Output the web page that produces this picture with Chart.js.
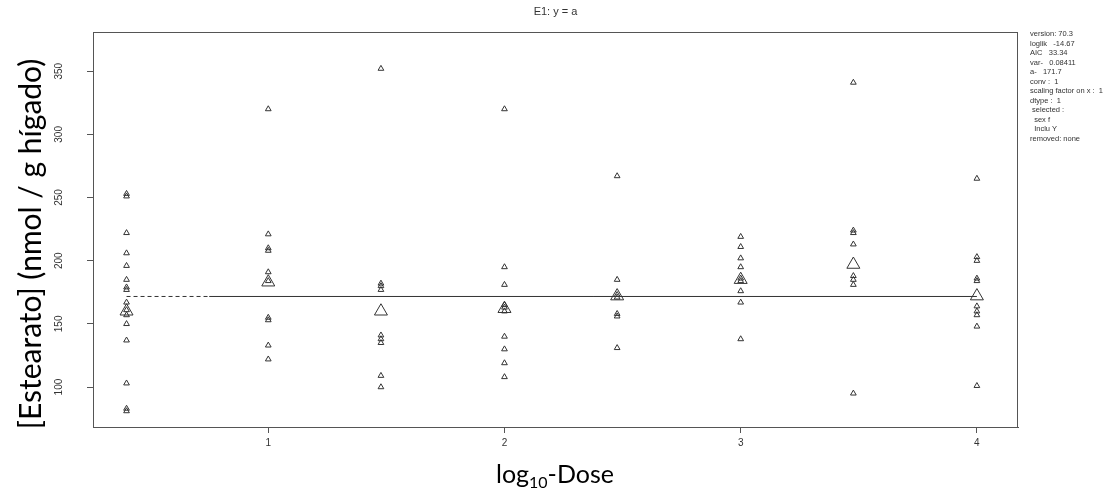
<!DOCTYPE html>
<html>
<head>
<meta charset="utf-8">
<script src="https://cdn.jsdelivr.net/npm/chart.js@4/dist/chart.umd.min.js"></script>
<style>
  html, body { margin: 0; padding: 0; background: #fff; }
  #wrap { width: 1112px; height: 493px; }
</style>
</head>
<body>
<div id="wrap"><canvas id="e1_plot"></canvas></div>
<script>
// log10 dose positions (control drawn at 0.4)
const doses = [0.4, 1, 1.477, 2, 2.477, 3, 3.477, 4];

// individual observations per dose group
const ctrl  = [253, 251, 222, 206, 196, 185, 179, 177, 167, 161, 157, 150, 137, 103, 83, 81];
const dose1 = [320, 221, 210, 208, 191, 184, 155, 153, 133, 122];
const dose2 = [352, 182, 180, 177, 141, 138, 135, 109, 100];
const dose3 = [320, 195, 181, 165, 163, 160, 140, 130, 119, 108];
const dose4 = [267, 185, 173, 171, 158, 156, 131];
const dose5 = [219, 211, 202, 195, 186, 184, 176, 167, 138];
const dose6 = [341, 224, 222, 213, 188, 185, 181, 95];
const dose7 = [265, 203, 200, 186, 184, 164, 160, 157, 148, 101];

// group means (large triangles)
const means = [160, 183, 160, 162, 172, 185, 197, 172];

// fitted model E1: y = a
const aFit = 171.7;
const dashEnd = 0.75;

const yTicks = [100, 150, 200, 250, 300, 350];
const xTicks = [1, 2, 3, 4];

const infoLines = ['version: 70.3', 'loglik   -14.67', 'AIC   33.34', 'var-   0.08411',
  'a-   171.7', 'conv :  1', 'scaling factor on x :  1', 'dtype :  1', ' selected :',
  '  sex f', '  Inclu Y', 'removed: none'];

const groups = [ctrl, dose1, dose2, dose3, dose4, dose5, dose6, dose7];
const obs = [];
groups.forEach((g, i) => g.forEach(v => obs.push({x: doses[i], y: v})));
const meanPts = means.map((m, i) => ({x: doses[i], y: m}));

const ink = '#333';

const extras = {
  id: 'extras',
  afterDraw(chart) {
    const c = chart.ctx, a = chart.chartArea;
    const ys = chart.scales.y;
    c.save();
    // box
    c.strokeStyle = '#555';
    c.lineWidth = 1;
    c.strokeRect(a.left + 0.5, a.top + 0.5, a.right - a.left - 1, a.bottom - a.top);
    // rotated y tick labels
    c.fillStyle = ink;
    c.font = '10px "Liberation Sans", Arial, sans-serif';
    c.textAlign = 'center';
    c.textBaseline = 'middle';
    yTicks.forEach(t => {
      c.save();
      c.translate(59, ys.getPixelForValue(t));
      c.rotate(-Math.PI / 2);
      c.fillText(String(t), 0, 0);
      c.restore();
    });
    // title
    c.font = '11px "Liberation Sans", Arial, sans-serif';
    c.fillText('E1: y = a', (a.left + a.right) / 2, 12);
    // info block
    c.textAlign = 'left';
    c.font = '7.5px "Liberation Sans", Arial, sans-serif';
    infoLines.forEach((l, i) => c.fillText(l, 1030, 34 + i * 9.5));
    // y axis title
    c.fillStyle = '#000';
    c.font = '30px Lato, "Open Sans", sans-serif';
    c.textAlign = 'center';
    c.save();
    c.translate(31, 244);
    c.rotate(-Math.PI / 2);
    c.fillText('[Estearato] (nmol / g hígado)', 0, 0);
    c.restore();
    // x axis title with subscript
    const big = '25px Lato, "Open Sans", sans-serif';
    const small = '16px Lato, "Open Sans", sans-serif';
    c.textAlign = 'left';
    c.textBaseline = 'alphabetic';
    c.font = big;
    const w1 = c.measureText('log').width;
    const w3 = c.measureText('-Dose').width;
    c.font = small;
    const w2 = c.measureText('10').width;
    let x0 = 555 - (w1 + w2 + w3) / 2;
    const base = 483;
    c.font = big;
    c.fillText('log', x0, base);
    c.font = small;
    c.fillText('10', x0 + w1, base + 5);
    c.font = big;
    c.fillText('-Dose', x0 + w1 + w2, base);
    c.restore();
  }
};

new Chart(document.getElementById('e1_plot'), {
  type: 'scatter',
  data: {
    datasets: [
      {
        type: 'line', data: [{x: doses[0], y: aFit}, {x: dashEnd, y: aFit}],
        borderColor: ink, borderWidth: 1, borderDash: [4, 3], pointRadius: 0, fill: false
      },
      {
        type: 'line', data: [{x: dashEnd, y: aFit}, {x: doses[7], y: aFit}],
        borderColor: ink, borderWidth: 1, pointRadius: 0, fill: false
      },
      {
        data: obs, pointStyle: 'triangle', pointRadius: 3.3,
        backgroundColor: 'rgba(0,0,0,0)', borderColor: ink, borderWidth: 1
      },
      {
        data: meanPts, pointStyle: 'triangle', pointRadius: 7.5,
        backgroundColor: 'rgba(0,0,0,0)', borderColor: ink, borderWidth: 1
      }
    ]
  },
  options: {
    responsive: true,
    maintainAspectRatio: false,
    animation: false,
    layout: { padding: { left: 0, top: 32, right: 94, bottom: 0 } },
    plugins: { legend: { display: false }, tooltip: { enabled: false } },
    scales: {
      x: {
        type: 'linear', min: 0.258, max: 4.174,
        afterBuildTicks: s => { s.ticks = xTicks.map(v => ({value: v})); },
        afterFit: s => { s.height = 66; },
        grid: { drawOnChartArea: false, tickLength: 6, color: '#555' },
        border: { color: '#555' },
        ticks: { color: ink, padding: 4, font: { family: '"Liberation Sans", Arial', size: 10 } }
      },
      y: {
        type: 'linear', min: 68.4, max: 381,
        afterBuildTicks: s => { s.ticks = yTicks.map(v => ({value: v})); },
        afterFit: s => { s.width = 93; },
        grid: { drawOnChartArea: false, tickLength: 6, color: '#555' },
        border: { color: '#555' },
        ticks: { color: 'rgba(0,0,0,0)', font: { size: 10 } }
      }
    }
  },
  plugins: [extras]
});
</script>
</body>
</html>
